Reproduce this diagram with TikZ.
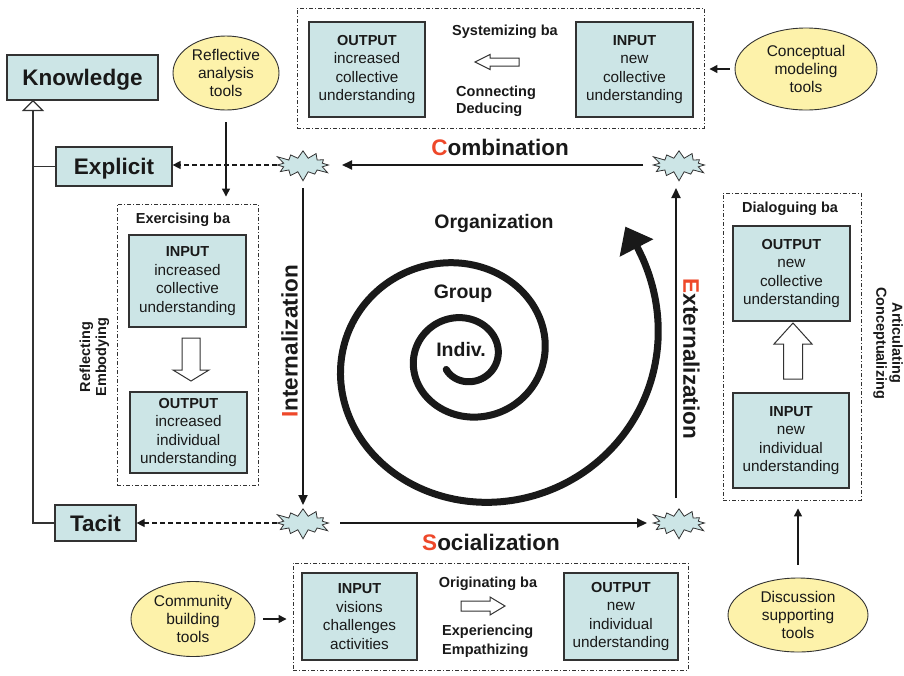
\documentclass[tikz,border=0pt]{standalone}
\usepackage{fontspec}
\setmainfont{Liberation Sans}
\usetikzlibrary{shapes.geometric,shapes.symbols,arrows.meta,calc}
\definecolor{boxfill}{RGB}{204,229,230}
\definecolor{toolfill}{RGB}{253,242,170}
\definecolor{accent}{RGB}{238,72,42}
\definecolor{ink}{RGB}{25,25,25}
\definecolor{edge}{RGB}{50,50,50}
\newcommand{\hd}[1]{{\fontsize{14.5}{18.6}\selectfont\bfseries #1}}
\begin{document}
\begin{tikzpicture}[x=1pt,y=-1pt,
  every node/.style={text=ink},
  kbox/.style={draw=edge, line width=1.2pt, fill=boxfill, inner sep=0pt, font=\fontsize{22.5}{27}\selectfont\bfseries, text depth=0pt},
  ibox/.style={draw=edge, line width=1.2pt, fill=boxfill, inner sep=0pt, align=center, font=\fontsize{15.3}{18.6}\selectfont},
  tool/.style={ellipse, draw=edge, line width=0.9pt, fill=toolfill, inner sep=0pt, align=center, font=\fontsize{15.5}{18.3}\selectfont},
  grp/.style={draw=edge, line width=0.9pt, dash pattern=on 4pt off 2pt on 1pt off 2pt, inner sep=0pt},
  burst/.style={starburst, starburst points=12, starburst point height=10pt, draw=edge, line width=0.8pt, fill=boxfill, minimum width=60pt, minimum height=34pt, inner sep=0pt},
  lbl/.style={font=\fontsize{14.5}{17.5}\selectfont\bfseries, inner sep=0pt},
  big/.style={font=\fontsize{22.5}{27}\selectfont\bfseries, inner sep=0pt},
  mid/.style={font=\fontsize{19.5}{23}\selectfont\bfseries, inner sep=0pt},
  arr/.style={-{Triangle[width=8pt,length=8pt]}, line width=1.3pt, draw=ink},
  flow/.style={-{Triangle[width=9pt,length=10pt]}, line width=2pt, draw=ink},
  dflow/.style={-{Triangle[width=8pt,length=8pt]}, line width=1.2pt, dash pattern=on 5pt off 3pt, draw=ink},
  hollow/.style={draw=edge, line width=1pt, fill=white, line join=miter},
]
\useasboundingbox (0,0) rectangle (904,675);

% Knowledge hierarchy
\node[kbox, minimum width=151pt, minimum height=45pt] (know) at (82.5,77.5) {Knowledge};
\node[kbox, minimum width=116pt, minimum height=39pt] (expl) at (114,166.5) {Explicit};
\node[kbox, minimum width=81pt, minimum height=36pt] (tacit) at (95.5,523) {Tacit};
\coordinate (kt) at (33,100);
\draw[line width=1.2pt, draw=edge, -{Triangle[open, width=22pt, length=11pt]}] (tacit.west) -| (kt);
\draw[line width=1.2pt, draw=edge] (expl.west) -- (expl.west -| kt);

% ba groups
\node[grp, minimum width=407pt, minimum height=120pt] (sys) at (500.5,68) {};
\node[grp, minimum width=141pt, minimum height=281pt] (exer) at (187.5,344.5) {};
\node[grp, minimum width=138pt, minimum height=307pt] (dial) at (792,346.5) {};
\node[grp, minimum width=395pt, minimum height=107pt] (orig) at (490.5,616.5) {};

% inner boxes
\node[ibox, minimum width=116pt, minimum height=95pt] (sysout) at (367,69.5) {\hd{OUTPUT}\\increased\\collective\\understanding};
\node[ibox, minimum width=117pt, minimum height=95pt] (sysin) at (634.5,69.5) {\hd{INPUT}\\new\\collective\\understanding};
\node[ibox, minimum width=117pt, minimum height=92pt] (exin) at (187.5,281) {\hd{INPUT}\\increased\\collective\\understanding};
\node[ibox, minimum width=117pt, minimum height=81pt] (exout) at (188.5,432.5) {\hd{OUTPUT}\\increased\\individual\\understanding};
\node[ibox, minimum width=117pt, minimum height=95pt] (diout) at (791.5,273.5) {\hd{OUTPUT}\\new\\collective\\understanding};
\node[ibox, minimum width=116pt, minimum height=95pt] (diin) at (791,440.5) {\hd{INPUT}\\new\\individual\\understanding};
\node[ibox, minimum width=115pt, minimum height=87pt] (orin) at (359.5,616.5) {\hd{INPUT}\\visions\\challenges\\activities};
\node[ibox, minimum width=114pt, minimum height=87pt] (orout) at (621,616.5) {\hd{OUTPUT}\\new\\individual\\understanding};

% hollow arrows
\draw[hollow] (475,62) -- (490,54.5) -- (490,58) -- (519,58) -- (519,66) -- (490,66) -- (490,69.5) -- cycle;
\draw[hollow] (191,381) -- (173,370) -- (182,370) -- (182,338) -- (200,338) -- (200,370) -- (209,370) -- cycle;
\draw[hollow] (793,323) -- (812,344) -- (802.5,344) -- (802.5,379) -- (783.5,379) -- (783.5,344) -- (774,344) -- cycle;
\draw[hollow] (505,606) -- (490,597) -- (490,601) -- (461,601) -- (461,611) -- (490,611) -- (490,615) -- cycle;

% ba labels
\node[lbl, anchor=base] (sysl) at (505,35) {Systemizing ba};
\node[lbl, anchor=west, align=left] (sysv) at (456,101.5) {Connecting\\Deducing};
\node[lbl, anchor=base] (exl) at (183,223) {Exercising ba};
\node[lbl, anchor=base] (dil) at (790,212) {Dialoguing ba};
\node[lbl, anchor=base] (orl) at (488,587) {Originating ba};
\node[lbl, anchor=west, align=left, font=\fontsize{14.5}{19}\selectfont\bfseries] (orv) at (442,641.7) {Experiencing\\Empathizing};
\node[lbl, rotate=90, align=center, font=\fontsize{14.5}{16}\selectfont\bfseries] (exv) at (94.5,357) {Reflecting\\Embodying};
\node[lbl, rotate=-90, align=center, font=\fontsize{14.5}{16}\selectfont\bfseries] (div) at (888,343) {Articulating\\Conceptualizing};

% tools
\node[tool, minimum width=106pt, minimum height=74pt] (refl) at (226,73) {Reflective\\analysis\\tools};
\node[tool, minimum width=142pt, minimum height=82pt] (conc) at (806,69) {Conceptual\\modeling\\tools};
\node[tool, minimum width=124pt, minimum height=75pt] (comm) at (193,619) {Community\\building\\tools};
\node[tool, minimum width=140pt, minimum height=74pt] (disc) at (798,615) {Discussion\\supporting\\tools};
\draw[arr, shorten <=12pt, shorten >=7pt] (refl.south) -- (refl.south |- exer.north);
\draw[arr, shorten <=5pt, shorten >=5pt] (conc.west) -- (conc.west -| sys.east);
\draw[arr, shorten <=8pt, shorten >=6pt] (comm.east) -- (comm.east -| orig.west);
\draw[arr, shorten <=13pt, shorten >=8pt] (disc.north) -- (disc.north |- dial.south);

% SECI cycle
\node[burst] (tl) at (303,165) {};
\node[burst] (tr) at (679,165) {};
\node[burst] (bl) at (303,523) {};
\node[burst] (br) at (679,523) {};
\draw[flow, shorten <=36pt, shorten >=39pt] (tr.center) -- (tl.center);
\draw[flow, shorten <=23pt, shorten >=18pt] (tl.center) -- (bl.center);
\draw[flow, shorten <=37pt, shorten >=32pt] (bl.center) -- (br.center);
\draw[flow, shorten <=25pt, shorten >=23pt] ([xshift=-3pt]br.center) -- ([xshift=-3pt]tr.center);
\draw[dflow, shorten <=26pt] (tl.center) -- (tl.center -| expl.east);
\draw[dflow, shorten <=26pt] (bl.center) -- (bl.center -| tacit.east);

\node[big, anchor=base] (comb) at (500,155.5) {\textcolor{accent}{C}ombination};
\node[big, anchor=base] (soc) at (491,550) {\textcolor{accent}{S}ocialization};
\node[big, rotate=90] (int) at (289.5,341.5) {\textcolor{accent}{I}nternalization};
\node[big, rotate=-90] (ext) at (691.5,359) {\textcolor{accent}{E}xternalization};

% spiral
\draw[line width=7pt, line cap=round, draw=ink] plot[domain=-144:754, samples=220, smooth] ({465+33*exp(0.0024344*\x)*cos(\x)}, {356.6-31*exp(0.0024344*\x)*sin(\x)});
\fill[ink] (625.4,226.7) -- (653.4,239.2) -- (619.6,256.8) -- cycle;

\node[mid, anchor=base] (org) at (494,228) {Organization};
\node[mid, anchor=base] (grpl) at (463,298) {Group};
\node[mid, anchor=base] (ind) at (461,356.5) {Indiv.};
\end{tikzpicture}
\end{document}
